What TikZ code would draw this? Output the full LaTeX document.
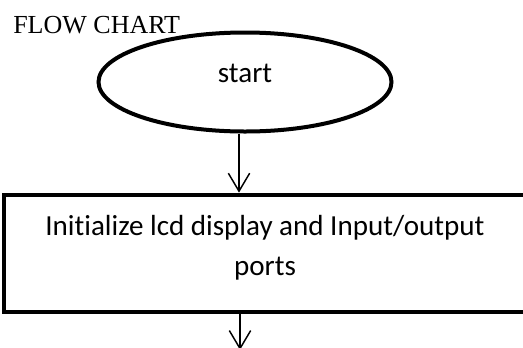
\documentclass[tikz,border=0pt]{standalone}
\usepackage{fontspec}
\setmainfont{Carlito}[Ligatures=NoCommon]
\newfontfamily\titlefont{Liberation Serif}
\usetikzlibrary{arrows.meta,shapes.geometric}
\begin{document}
\begin{tikzpicture}[x=0.75pt,y=-0.75pt,
  thickline/.style={draw=black,line width=3pt},
  arr/.style={draw=black,line width=1.1pt,-{Straight Barb[length=13.5pt,width=16pt]}},
  bodytext/.style={font=\fontsize{21.8pt}{30pt}\selectfont}]
\useasboundingbox (0,0) rectangle (523,347);
\clip (0,0) rectangle (523,347);
\node[anchor=base west,inner sep=0pt,font=\titlefont\fontsize{19.5pt}{22pt}\selectfont] (title) at (13,33) {FLOW CHART};
\node[thickline,ellipse,minimum width=219.75pt,minimum height=74.25pt,inner sep=0pt] (start) at (245,82) {};
\node[bodytext,anchor=base,inner sep=0pt] (starttext) at (245,82) {start};
\node[thickline,rectangle,minimum width=391.5pt,minimum height=88pt,inner sep=0pt] (init) at (265,253.3) {};
\node[bodytext,align=center,anchor=base,inner sep=0pt] (inittext) at (265,275) {Initialize lcd display and Input/output\\ports};
\coordinate (next) at (240,350);
\draw[arr] ([xshift=-4.5pt]start.south) -- ([xshift=-19.5pt]init.north);
\draw[arr] ([xshift=-18.75pt]init.south) -- (next);
\end{tikzpicture}
\end{document}
